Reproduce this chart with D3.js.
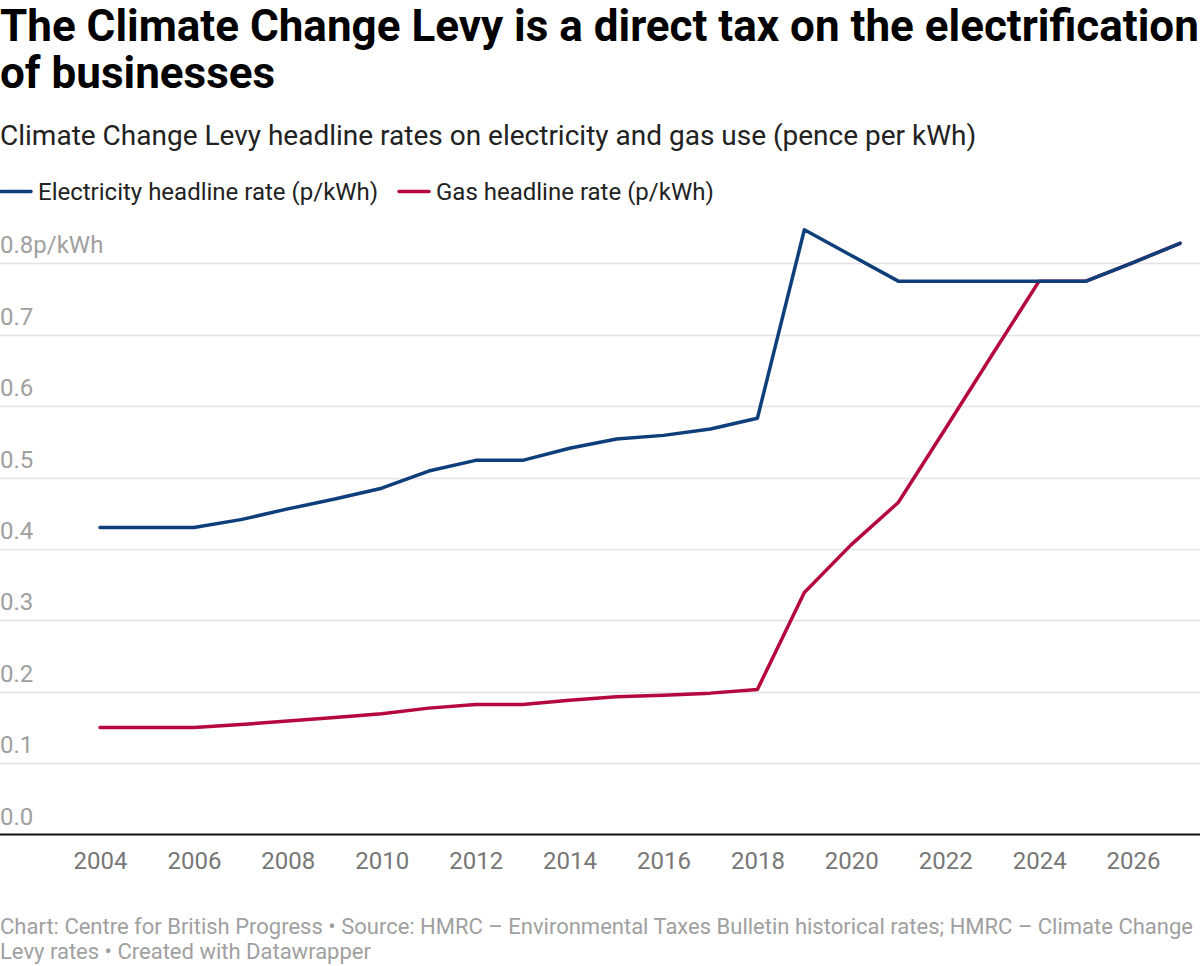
<!DOCTYPE html>
<html>
<head>
<meta charset="utf-8">
<script src="https://cdn.jsdelivr.net/npm/d3@7"></script>
<style>
  html, body { margin: 0; padding: 0; background: #fff; }
  svg { display: block; font-family: Roboto, "Noto Sans", sans-serif; }
</style>
</head>
<body>
<svg id="chart" width="1200" height="966"></svg>
<script>
const years = [2004,2005,2006,2007,2008,2009,2010,2011,2012,2013,2014,2015,2016,2017,2018,2019,2020,2021,2022,2023,2024,2025,2026,2027];
const electricity = [0.430,0.430,0.430,0.441,0.456,0.470,0.485,0.509,0.524,0.524,0.541,0.554,0.559,0.568,0.583,0.847,0.811,0.775,0.775,0.775,0.775,0.775,0.801,0.828];
const gas = [0.150,0.150,0.150,0.154,0.159,0.164,0.169,0.177,0.182,0.182,0.188,0.193,0.195,0.198,0.203,0.339,0.406,0.465,0.568,0.672,0.775,0.775,0.801,0.828];
const yTicks = [0.0,0.1,0.2,0.3,0.4,0.5,0.6,0.7,0.8];
const xTicks = [2004,2006,2008,2010,2012,2014,2016,2018,2020,2022,2024,2026];
const seriesNames = ["Electricity headline rate (p/kWh)", "Gas headline rate (p/kWh)"];
const colors = ["#0e3f7a", "#b5083f"];

const svg = d3.select("#chart");

// Title
svg.append("text").attr("x", 0).attr("y", 41)
  .style("font-weight", 700).style("font-size", "44px").attr("fill", "#000")
  .text("The Climate Change Levy is a direct tax on the electrification");
svg.append("text").attr("x", 0).attr("y", 88)
  .style("font-weight", 700).style("font-size", "44px").attr("fill", "#000")
  .text("of businesses");

// Subtitle
svg.append("text").attr("x", 0).attr("y", 145)
  .style("font-size", "28px").attr("fill", "#222")
  .text("Climate Change Levy headline rates on electricity and gas use (pence per kWh)");

// Legend
const legendX = [0, 398];
seriesNames.forEach((name, i) => {
  const g = svg.append("g").attr("transform", `translate(${legendX[i]},0)`);
  g.append("line").attr("x1", 1).attr("x2", 31).attr("y1", 191.5).attr("y2", 191.5)
    .attr("stroke", colors[i]).attr("stroke-width", 3.5).attr("stroke-linecap", "round");
  g.append("text").attr("x", 38).attr("y", 200).style("font-size", "24px").attr("fill", "#222").text(name);
});

// Scales
const x = d3.scaleLinear().domain([2004, 2027]).range([100, 1180]);
const y = d3.scaleLinear().domain([0, 0.8]).range([834.5, 263.3]);

// Gridlines + y labels
const gy = svg.append("g");
yTicks.forEach(t => {
  if (t > 0) {
    gy.append("line").attr("x1", 0).attr("x2", 1200).attr("y1", Math.round(y(t)) + 0.5).attr("y2", Math.round(y(t)) + 0.5)
      .attr("stroke", "#e3e3e3").attr("stroke-width", 1.5);
  }
  gy.append("text").attr("x", 0).attr("y", y(t) - 10)
    .style("font-size", "24px").attr("fill", "#a0a0a0")
    .text(t === 0.8 ? d3.format(".1f")(t) + "p/kWh" : d3.format(".1f")(t));
});

// X axis
const xAxis = d3.axisBottom(x).tickValues(xTicks).tickFormat(d3.format("d")).tickSize(0).tickPadding(0);
const gx = svg.append("g").attr("transform", `translate(0,${y(0)})`).call(xAxis);
gx.select(".domain").remove();
gx.selectAll("text").attr("dy", null).attr("y", 34).style("font-size", "24px").attr("fill", "#777").style("font-family", "Roboto, sans-serif");
svg.append("line").attr("x1", 0).attr("x2", 1200).attr("y1", y(0)).attr("y2", y(0))
  .attr("stroke", "#111").attr("stroke-width", 2);

// Lines
const line = d3.line().x((d, i) => x(years[i])).y(d => y(d));
[gas, electricity].forEach((s, k) => {
  const ci = k === 0 ? 1 : 0;
  svg.append("path").datum(s).attr("d", line)
    .attr("fill", "none").attr("stroke", colors[ci]).attr("stroke-width", 3.5)
    .attr("stroke-linejoin", "round").attr("stroke-linecap", "round");
});

// Footer
svg.append("text").attr("x", 0).attr("y", 934).style("font-size", "22px").attr("fill", "#a0a0a0")
  .text("Chart: Centre for British Progress • Source: HMRC – Environmental Taxes Bulletin historical rates; HMRC – Climate Change");
svg.append("text").attr("x", 0).attr("y", 959).style("font-size", "22px").attr("fill", "#a0a0a0")
  .text("Levy rates • Created with Datawrapper");
</script>
</body>
</html>
